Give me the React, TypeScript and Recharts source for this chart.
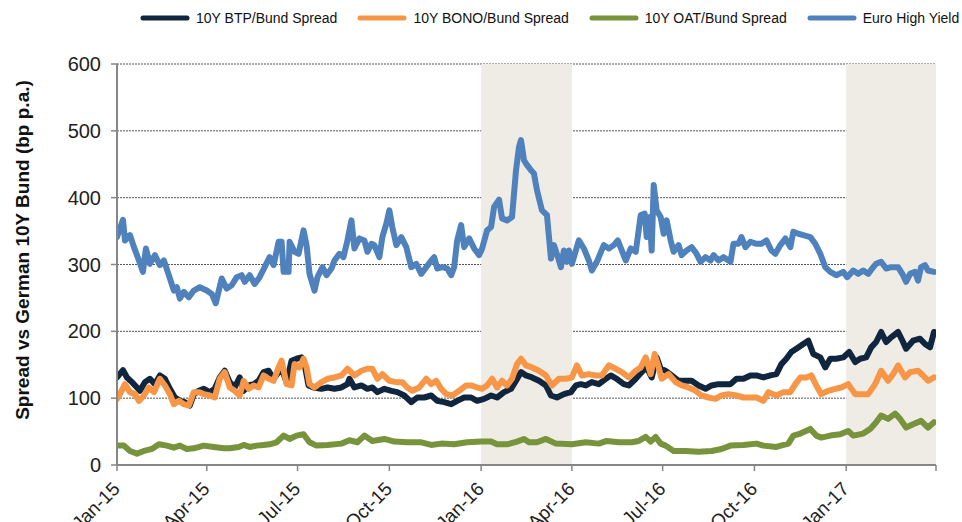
import React from 'react';
import { LineChart, Line, XAxis, YAxis, CartesianGrid, ReferenceArea } from 'recharts';

// x = days since 1 Jan 2015, y = spread in bp
const btpPoints: [number, number][] = [
  [0, 131], [6, 142], [10, 131], [15, 124], [20, 116], [23, 111], [28, 124], [33, 129], [38, 121], [43, 134],
  [48, 129], [53, 114], [58, 101], [63, 96], [68, 94], [73, 89], [77, 106], [82, 111], [87, 114], [93, 109],
  [98, 114], [103, 131], [108, 141], [113, 124], [118, 116], [123, 131], [127, 111], [132, 119], [137, 121], [142, 126],
  [147, 139], [152, 141], [157, 129], [162, 139], [165, 144], [170, 124], [175, 156], [180, 159], [185, 161], [188, 151],
  [192, 119], [197, 116], [205, 114], [211, 116], [218, 114], [225, 116], [231, 121], [233, 129], [238, 116], [245, 119],
  [251, 114], [256, 116], [261, 109], [268, 114], [275, 111], [281, 109], [288, 104], [295, 94], [301, 101], [308, 101],
  [315, 104], [321, 96], [328, 94], [335, 91], [341, 96], [348, 101], [355, 101], [361, 96], [368, 99], [375, 104],
  [381, 101], [388, 109], [395, 114], [400, 126], [405, 139], [410, 134], [416, 131], [423, 126], [430, 119], [435, 104],
  [441, 101], [448, 106], [455, 109], [460, 119], [465, 121], [470, 119], [476, 124], [483, 121], [490, 129], [495, 134],
  [501, 129], [508, 121], [513, 119], [520, 129], [526, 139], [531, 146], [536, 131], [541, 161], [545, 144], [550, 141],
  [556, 134], [563, 126], [570, 126], [576, 126], [583, 119], [590, 114], [596, 119], [603, 121], [608, 121], [615, 121],
  [621, 129], [628, 129], [635, 134], [641, 134], [648, 131], [655, 134], [661, 136], [666, 151], [671, 159], [676, 169],
  [681, 174], [688, 181], [693, 186], [698, 166], [705, 161], [710, 146], [715, 159], [721, 159], [728, 161], [734, 169],
  [740, 154], [745, 159], [751, 161], [756, 176], [761, 184], [766, 199], [771, 184], [776, 191], [783, 199], [788, 184],
  [791, 174], [798, 186], [805, 189], [810, 181], [815, 176], [819, 199],
];

const bonoPoints: [number, number][] = [
  [0, 99], [3, 106], [8, 121], [13, 109], [18, 106], [22, 96], [27, 104], [32, 116], [37, 109], [43, 129],
  [48, 119], [53, 106], [57, 91], [62, 96], [67, 91], [72, 89], [77, 109], [82, 109], [87, 106], [93, 104],
  [98, 101], [103, 129], [108, 139], [113, 116], [118, 111], [123, 104], [127, 126], [132, 114], [137, 119], [142, 116],
  [147, 134], [152, 129], [157, 126], [162, 146], [165, 156], [170, 121], [175, 119], [178, 151], [183, 146], [187, 159],
  [190, 146], [193, 121], [198, 116], [205, 124], [211, 129], [218, 131], [225, 134], [231, 144], [238, 134], [245, 141],
  [251, 144], [256, 144], [261, 129], [266, 136], [273, 126], [280, 124], [286, 124], [291, 116], [296, 111], [303, 116],
  [310, 129], [315, 121], [320, 126], [325, 114], [330, 106], [336, 104], [343, 111], [350, 119], [355, 119], [361, 116],
  [366, 114], [371, 119], [376, 129], [381, 116], [386, 126], [391, 119], [396, 129], [401, 151], [405, 159], [410, 149],
  [416, 146], [423, 141], [430, 134], [436, 119], [443, 129], [450, 129], [456, 131], [461, 149], [466, 134], [473, 136],
  [480, 134], [486, 134], [493, 149], [500, 144], [506, 139], [513, 131], [520, 141], [525, 146], [530, 161], [535, 136],
  [539, 166], [543, 146], [546, 129], [553, 136], [560, 124], [566, 119], [573, 116], [580, 111], [586, 104], [593, 101],
  [600, 99], [606, 104], [613, 106], [621, 104], [628, 101], [635, 101], [641, 101], [648, 96], [653, 109], [661, 104],
  [668, 109], [675, 109], [680, 121], [685, 131], [691, 131], [696, 134], [701, 119], [706, 106], [713, 111], [720, 114],
  [726, 116], [733, 121], [740, 106], [746, 106], [753, 106], [760, 121], [766, 141], [773, 126], [778, 136], [783, 149],
  [790, 131], [795, 139], [803, 141], [808, 134], [813, 126], [819, 131],
];

const oatPoints: [number, number][] = [
  [0, 29], [7, 29], [13, 21], [20, 17], [27, 21], [35, 24], [42, 31], [50, 29], [57, 26], [63, 29],
  [70, 24], [77, 25], [87, 29], [97, 27], [107, 25], [113, 25], [122, 27], [127, 30], [133, 27], [140, 29],
  [147, 30], [153, 31], [160, 34], [167, 44], [173, 39], [180, 44], [187, 46], [193, 34], [200, 29], [211, 30],
  [225, 32], [233, 37], [241, 34], [248, 44], [256, 36], [268, 39], [278, 35], [291, 34], [305, 34], [315, 30],
  [325, 32], [338, 31], [351, 34], [365, 35], [375, 35], [381, 31], [391, 31], [401, 35], [408, 39], [413, 34],
  [421, 34], [430, 39], [440, 32], [456, 31], [470, 34], [483, 32], [491, 36], [503, 34], [516, 34], [523, 36],
  [530, 42], [535, 35], [540, 42], [545, 32], [550, 29], [558, 21], [570, 21], [583, 20], [596, 21], [606, 24],
  [615, 29], [628, 30], [641, 32], [648, 29], [661, 27], [673, 32], [678, 44], [685, 47], [695, 54], [701, 44],
  [706, 41], [715, 44], [725, 46], [733, 51], [738, 44], [748, 47], [755, 54], [761, 64], [766, 74], [773, 69],
  [780, 77], [785, 69], [791, 56], [798, 61], [806, 66], [813, 56], [819, 64],
];

const hyPoints: [number, number][] = [
  [0, 341], [6, 367], [8, 336], [13, 344], [17, 326], [22, 306], [26, 289], [29, 324], [33, 301], [38, 314],
  [43, 299], [47, 306], [52, 284], [57, 261], [60, 266], [63, 249], [67, 259], [72, 251], [77, 261], [83, 266],
  [90, 261], [95, 256], [99, 242], [105, 279], [110, 264], [115, 269], [120, 281], [125, 284], [128, 274], [133, 284],
  [138, 271], [143, 281], [148, 296], [153, 311], [157, 299], [162, 334], [165, 334], [167, 289], [172, 289], [173, 334],
  [178, 319], [182, 316], [187, 351], [190, 329], [193, 286], [198, 261], [201, 281], [206, 296], [210, 284], [215, 294],
  [218, 306], [223, 316], [227, 311], [231, 336], [235, 366], [238, 324], [243, 339], [248, 336], [251, 319], [255, 331],
  [258, 329], [263, 311], [266, 341], [270, 361], [273, 381], [276, 356], [280, 329], [285, 341], [290, 326], [295, 296],
  [300, 301], [305, 286], [310, 296], [315, 306], [318, 311], [321, 294], [326, 296], [331, 294], [335, 284], [338, 296],
  [341, 336], [345, 359], [348, 326], [353, 339], [358, 324], [363, 314], [366, 324], [371, 351], [375, 356], [378, 386],
  [383, 397], [386, 369], [391, 366], [396, 371], [400, 441], [403, 476], [405, 486], [408, 456], [410, 451], [415, 441],
  [418, 436], [421, 411], [426, 381], [431, 374], [435, 309], [438, 329], [442, 311], [445, 296], [448, 321], [451, 304],
  [453, 321], [456, 301], [463, 336], [468, 324], [473, 306], [476, 291], [481, 304], [488, 329], [493, 324], [498, 329],
  [502, 336], [506, 321], [510, 306], [515, 324], [520, 319], [525, 374], [529, 376], [531, 341], [534, 371], [536, 321],
  [538, 419], [541, 381], [545, 371], [548, 346], [551, 366], [555, 336], [558, 319], [563, 329], [566, 314], [571, 321],
  [576, 326], [581, 316], [585, 304], [590, 311], [595, 306], [598, 314], [603, 306], [608, 311], [615, 304], [618, 331],
  [623, 331], [626, 341], [630, 326], [635, 334], [641, 331], [646, 331], [651, 336], [656, 321], [660, 316], [665, 329],
  [670, 339], [675, 326], [678, 349], [683, 346], [688, 344], [695, 341], [700, 331], [705, 316], [710, 296], [715, 289],
  [721, 284], [728, 289], [732, 281], [738, 291], [743, 286], [748, 291], [753, 286], [758, 296], [761, 301], [766, 304],
  [771, 294], [776, 296], [783, 296], [788, 284], [791, 274], [795, 286], [800, 289], [803, 276], [806, 296], [810, 299],
  [813, 291], [819, 289],
];

const xTickDays = [0, 90, 181, 273, 365, 456, 547, 639, 731, 821];
const xTickLabels = ['Jan-15', 'Apr-15', 'Jul-15', 'Oct-15', 'Jan-16', 'Apr-16', 'Jul-16', 'Oct-16', 'Jan-17', ''];
const yTicks = [0, 100, 200, 300, 400, 500, 600];
const shadedPeriods: [number, number][] = [[365, 456], [731, 821]];

const series = [
  { name: '10Y BTP/Bund Spread', color: '#10263F', points: btpPoints },
  { name: '10Y BONO/Bund Spread', color: '#F79646', points: bonoPoints },
  { name: '10Y OAT/Bund Spread', color: '#77933C', points: oatPoints },
  { name: 'Euro High Yield', color: '#4F81BD', points: hyPoints },
];

const FONT = '"Liberation Sans", Arial, sans-serif';

const XTick = (props: any) => {
  const { x, y, payload } = props;
  const idx = xTickDays.indexOf(payload.value);
  const label = idx >= 0 ? xTickLabels[idx] : '';
  const tx = x + 4;
  const ty = y + 19;
  return (
    <text x={tx} y={ty} transform={`rotate(-45, ${tx}, ${ty})`} textAnchor="end" fontSize={19} fontFamily={FONT} fill="#222">
      {label}
    </text>
  );
};

export default function App() {
  return (
    <div style={{ position: 'absolute', left: 0, top: 0, width: 962, height: 522, background: '#fff', overflow: 'hidden', fontFamily: FONT }}>
      <div style={{ position: 'absolute', left: 140, top: 10, display: 'flex', alignItems: 'center', gap: 20, whiteSpace: 'nowrap' }}>
        {series.map(s => (
          <div key={s.name} style={{ display: 'flex', alignItems: 'center', gap: 6, fontSize: 14, color: '#111' }}>
            <svg width={50} height={8}>
              <line x1={3} y1={4} x2={47} y2={4} stroke={s.color} strokeWidth={5} strokeLinecap="round" />
            </svg>
            <span>{s.name}</span>
          </div>
        ))}
      </div>

      <div
        style={{
          position: 'absolute', left: 23, top: 250, transform: 'translate(-50%, -50%) rotate(-90deg)',
          whiteSpace: 'nowrap', fontWeight: 'bold', fontSize: 19, color: '#111',
        }}
      >
        Spread vs German 10Y Bund (bp p.a.)
      </div>

      <LineChart width={962} height={522} margin={{ top: 64, right: 26, bottom: 0, left: 0 }} style={{ position: 'absolute', left: 0, top: 0 }}>
        {shadedPeriods.map(([a, b]) => (
          <ReferenceArea key={a} x1={a} x2={b} y1={0} y2={600} fill="#EFECE5" fillOpacity={1} stroke="none" />
        ))}
        <CartesianGrid vertical={false} stroke="#555" strokeDasharray="2 1" />
        <XAxis
          type="number"
          dataKey="x"
          domain={[0, 821]}
          ticks={xTickDays}
          interval={0}
          height={57}
          tickSize={6}
          tickMargin={0}
          tick={<XTick />}
          axisLine={{ stroke: '#868686', strokeWidth: 2 }}
          tickLine={{ stroke: '#868686', strokeWidth: 1.5 }}
          allowDataOverflow
        />
        <YAxis
          type="number"
          domain={[0, 600]}
          ticks={yTicks}
          interval={0}
          width={117}
          tickSize={6}
          tickMargin={10}
          tick={{ fontSize: 20, fontFamily: FONT, fill: '#222' }}
          axisLine={{ stroke: '#868686', strokeWidth: 2 }}
          tickLine={{ stroke: '#868686', strokeWidth: 1.5 }}
          allowDataOverflow
        />
        {series.map(s => (
          <Line
            key={s.name}
            data={s.points.map(([x, y]) => ({ x, y }))}
            dataKey="y"
            name={s.name}
            type="linear"
            stroke={s.color}
            strokeWidth={6}
            strokeLinejoin="round"
            strokeLinecap="round"
            dot={false}
            activeDot={false}
            isAnimationActive={false}
          />
        ))}
      </LineChart>
    </div>
  );
}
